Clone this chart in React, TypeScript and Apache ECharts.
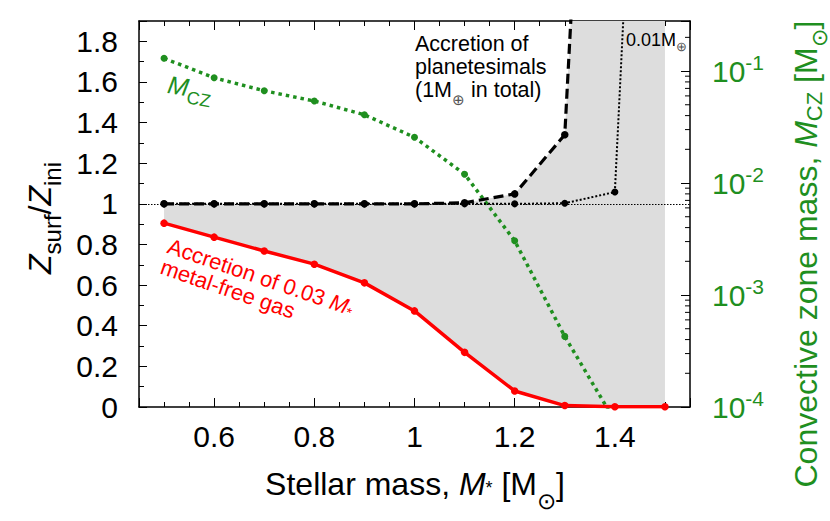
import React, { useEffect, useRef } from "react";
import * as echarts from "echarts";

// Stellar mass [Msun]
const masses = [0.5, 0.6, 0.7, 0.8, 0.9, 1.0, 1.1, 1.2, 1.3, 1.4, 1.5];
// Z_surf/Z_ini after accretion of 0.03 M* metal-free gas (red)
const zGas = [0.905, 0.836, 0.768, 0.703, 0.611, 0.473, 0.269, 0.079, 0.007, 0.001, 0.001];
// Z_surf/Z_ini after accretion of 1 Earth mass of planetesimals (black dashed)
const zPlanet1 = [1.0, 1.0, 1.0, 1.0, 1.0, 1.0, 1.005, 1.049, 1.34, 6.0, 10.0];
// Z_surf/Z_ini after accretion of 0.01 Earth mass (black dotted)
const zPlanet001 = [1.0, 1.0, 1.0, 1.0, 1.0, 1.0, 1.0, 1.0, 1.003, 1.058, 6.1];
// Convective zone mass [Msun] (green, right log axis)
const mcz = [0.13, 0.0871, 0.0667, 0.054, 0.0407, 0.0256, 0.012, 0.00305, 0.000427, 0.000075];

const xLabelsEvery = 0.2;
const leftLabelsEvery = 0.2;
const rightDecades = [-4, -3, -2, -1];

const FONT = '"Liberation Sans", Arial, Helvetica, sans-serif';
const GREEN = "#1f8f1f";
const RED = "#ff0000";
const GREY = "#dddddd";

const LOG_MIN = -4;
const LOG_MAX = -0.553;

const isMultiple = (v: number, step: number) => Math.abs(v / step - Math.round(v / step)) < 1e-6;

export default function App() {
  const ref = useRef<HTMLDivElement>(null);

  useEffect(() => {
    if (!ref.current) return;
    const chart = echarts.init(ref.current, undefined, { renderer: "svg" });

    const logMinorTicks: number[][] = [];
    rightDecades.forEach((n) => {
      for (let k = 2; k <= 9; k++) {
        const v = n + Math.log10(k);
        if (v < LOG_MAX) logMinorTicks.push([1.55, v]);
      }
    });

    const txt = (size: number, fill: string, extra: any = {}) => ({
      fontSize: size,
      fill,
      fontFamily: FONT,
      ...extra,
    });
    // subscript: shifted down by pad/2, line height capped so the line does not grow
    const sub = (size: number, fill: string, pad: number, lh: number) =>
      txt(size, fill, { padding: [pad, 0, 0, 0], lineHeight: lh });

    const option: any = {
      animation: false,
      backgroundColor: "#ffffff",
      grid: { left: 139, right: 140, top: 21, bottom: 114 },
      xAxis: [
        {
          type: "value",
          min: 0.45,
          max: 1.55,
          splitNumber: 5,
          position: "bottom",
          axisLine: { show: true, onZero: false, lineStyle: { color: "#000", width: 1.5 } },
          axisTick: { show: true, inside: true, length: 9, lineStyle: { color: "#000", width: 1 } },
          minorTick: { show: true, splitNumber: 4, length: 5, lineStyle: { color: "#000", width: 1 } },
          splitLine: { show: false },
          axisLabel: {
            show: true,
            margin: 14,
            fontSize: 30,
            color: "#000",
            fontFamily: FONT,
            formatter: (v: number) => (isMultiple(v, xLabelsEvery) ? String(+v.toFixed(2)) : ""),
          },
        },
        {
          type: "value",
          min: 0.45,
          max: 1.55,
          splitNumber: 5,
          position: "top",
          axisLine: { show: true, onZero: false, lineStyle: { color: "#000", width: 1.5 } },
          axisTick: { show: true, inside: true, length: 9, lineStyle: { color: "#000", width: 1 } },
          minorTick: { show: true, splitNumber: 4, length: 5, lineStyle: { color: "#000", width: 1 } },
          splitLine: { show: false },
          axisLabel: { show: false },
        },
      ],
      yAxis: [
        {
          type: "value",
          min: 0,
          max: 1.9,
          interval: 0.2,
          position: "left",
          axisLine: { show: true, onZero: false, lineStyle: { color: "#000", width: 1.5 } },
          axisTick: { show: true, inside: true, length: 8, lineStyle: { color: "#000", width: 1 } },
          minorTick: { show: true, splitNumber: 2, length: 5, lineStyle: { color: "#000", width: 1 } },
          splitLine: { show: false },
          axisLabel: {
            margin: 21,
            fontSize: 30,
            color: "#000",
            fontFamily: FONT,
            formatter: (v: number) => (isMultiple(v, leftLabelsEvery) ? String(+v.toFixed(1)) : ""),
          },
        },
        {
          type: "value",
          min: LOG_MIN,
          max: LOG_MAX,
          interval: 1,
          position: "right",
          axisLine: { show: true, onZero: false, lineStyle: { color: "#000", width: 1.5 } },
          axisTick: { show: true, inside: true, length: 9, lineStyle: { color: "#000", width: 1 } },
          splitLine: { show: false },
          axisLabel: {
            margin: 22,
            color: GREEN,
            formatter: (v: number) => (isMultiple(v, 1) ? `{b|10}{s|${Math.round(v)}}` : ""),
            rich: {
              b: { fontSize: 30, color: GREEN, fontFamily: FONT },
              s: { fontSize: 21, color: GREEN, fontFamily: FONT, padding: [0, 0, 18, 0] },
            },
          },
        },
      ],
      series: [
        {
          name: "band",
          type: "custom",
          clip: true,
          silent: true,
          data: [[masses[0], zGas[0]]],
          renderItem: (params: any, api: any) => {
            if (params.dataIndex !== 0) return null;
            const top = masses.map((m, i) => api.coord([m, zPlanet1[i]]));
            const bottom = masses.map((m, i) => api.coord([m, zGas[i]])).reverse();
            return {
              type: "polygon",
              shape: { points: top.concat(bottom) },
              style: { fill: GREY, stroke: "none" },
            };
          },
          z: 1,
        },
        {
          name: "logMinorTicks",
          type: "custom",
          yAxisIndex: 1,
          silent: true,
          clip: false,
          data: logMinorTicks,
          renderItem: (params: any, api: any) => {
            const p = api.coord([api.value(0), api.value(1)]);
            return {
              type: "line",
              shape: { x1: p[0] - 5, y1: p[1], x2: p[0], y2: p[1] },
              style: { stroke: "#000", lineWidth: 1 },
            };
          },
          z: 5,
        },
        {
          name: "MCZ",
          type: "line",
          yAxisIndex: 1,
          data: mcz.map((v, i) => [masses[i], Math.log10(v)]),
          symbol: "circle",
          symbolSize: 7,
          itemStyle: { color: GREEN },
          lineStyle: { color: GREEN, width: 3.5, type: [3.5, 4] },
          z: 3,
        },
        {
          name: "0.01 Mearth",
          type: "line",
          data: masses.map((m, i) => [m, zPlanet001[i]]),
          symbol: "circle",
          symbolSize: 7,
          itemStyle: { color: "#000" },
          lineStyle: { color: "#000", width: 2, type: [2, 2] },
          z: 4,
          markLine: {
            silent: true,
            symbol: ["none", "none"],
            label: { show: false },
            lineStyle: { color: "#000", width: 1, type: [1.5, 1.5] },
            data: [{ yAxis: 1 }],
          },
        },
        {
          name: "1 Mearth",
          type: "line",
          data: masses.map((m, i) => [m, zPlanet1[i]]),
          symbol: "circle",
          symbolSize: 7.5,
          itemStyle: { color: "#000" },
          lineStyle: { color: "#000", width: 3.2, type: [10, 5] },
          z: 4,
        },
        {
          name: "gas",
          type: "line",
          data: masses.map((m, i) => [m, zGas[i]]),
          symbol: "circle",
          symbolSize: 7.5,
          itemStyle: { color: RED },
          lineStyle: { color: RED, width: 3.5 },
          z: 6,
        },
      ],
      graphic: [
        {
          type: "text",
          x: 40,
          y: 218,
          rotation: Math.PI / 2,
          style: {
            text: "{i|Z}{s|surf}{n|/}{i|Z}{s|ini}",
            align: "center",
            verticalAlign: "middle",
            rich: {
              i: txt(32, "#000", { fontStyle: "italic", lineHeight: 38 }),
              n: txt(32, "#000", { lineHeight: 38 }),
              s: sub(24, "#000", 24, 38),
            },
          },
        },
        {
          type: "text",
          x: 806,
          y: 254,
          rotation: Math.PI / 2,
          style: {
            text: "{n|Convective zone mass, }{i|M}{s|CZ}{n| [M}{o|⊙}{n|]}",
            align: "center",
            verticalAlign: "middle",
            rich: {
              i: txt(32, GREEN, { fontStyle: "italic", lineHeight: 38 }),
              n: txt(32, GREEN, { lineHeight: 38 }),
              s: sub(22, GREEN, 16, 38),
              o: sub(22, GREEN, 26, 38),
            },
          },
        },
        {
          type: "text",
          x: 415,
          y: 484,
          style: {
            text: "{n|Stellar mass, }{i|M}{st|*}{n| [M}{o|⊙}{n|]}",
            align: "center",
            verticalAlign: "middle",
            rich: {
              i: txt(32, "#000", { fontStyle: "italic", lineHeight: 38 }),
              n: txt(32, "#000", { lineHeight: 38 }),
              st: sub(18, "#000", 7, 38),
              o: sub(23, "#000", 34, 38),
            },
          },
        },
        {
          type: "text",
          x: 415,
          y: 32,
          style: {
            text: "{a|Accretion of}\n{a|planetesimals}\n{a|(1M}{s|⊕}{a| in total)}",
            align: "left",
            verticalAlign: "top",
            rich: {
              a: txt(21.5, "#000", { lineHeight: 23 }),
              s: sub(15, "#555", 20, 23),
            },
          },
          z: 10,
        },
        {
          type: "text",
          x: 626,
          y: 40,
          style: {
            text: "{a|0.01M}{s|⊕}",
            align: "left",
            verticalAlign: "middle",
            rich: {
              a: txt(18, "#000", { lineHeight: 20 }),
              s: sub(13, "#555", 13, 20),
            },
          },
          z: 10,
        },
        {
          type: "text",
          x: 168,
          y: 84,
          rotation: -0.17,
          style: {
            text: "{i|M}{s|CZ}",
            align: "left",
            verticalAlign: "middle",
            rich: {
              i: txt(25, GREEN, { fontStyle: "italic", lineHeight: 28 }),
              s: sub(18, GREEN, 20, 28),
            },
          },
          z: 10,
        },
        {
          type: "text",
          x: 172,
          y: 235,
          rotation: -0.33,
          style: {
            text: "{a|Accretion of 0.03 }{i|M}{st|*}\n{a|metal-free gas}",
            align: "left",
            verticalAlign: "top",
            rich: {
              a: txt(22, RED, { lineHeight: 22 }),
              i: txt(22, RED, { lineHeight: 22, fontStyle: "italic" }),
              st: sub(14, RED, 10, 22),
            },
          },
          z: 10,
        },
      ],
    };

    chart.setOption(option);
    return () => chart.dispose();
  }, []);

  return (
    <div
      ref={ref}
      style={{ position: "fixed", left: 0, top: 0, width: 830, height: 521, background: "#fff" }}
    />
  );
}
